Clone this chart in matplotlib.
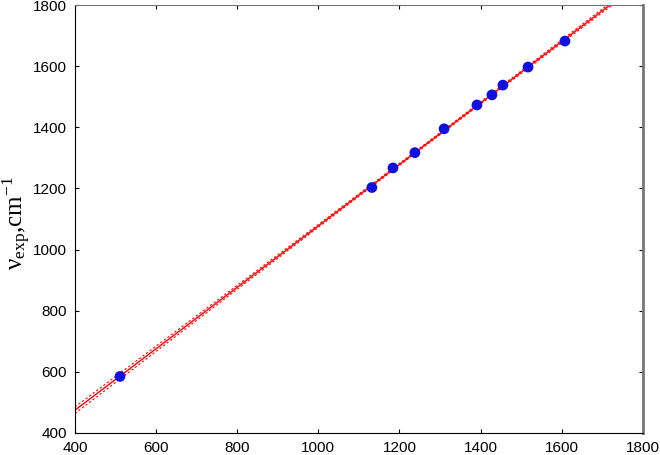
import numpy as np
import matplotlib
matplotlib.use("Agg")
import matplotlib.pyplot as plt

# calculated vs experimental frequencies, cm-1
nu_calc = [511, 1132, 1184, 1238, 1310, 1391, 1428, 1455, 1517, 1608]
nu_exp = [585, 1203, 1267, 1317, 1395, 1473, 1506, 1538, 1597, 1682]

x = np.array(nu_calc, dtype=float)
y = np.array(nu_exp, dtype=float)

# linear fit with 95% confidence band
b, a = np.polyfit(x, y, 1)
n = len(x)
res = y - (a + b * x)
s = np.sqrt(np.sum(res**2) / (n - 2))
xx = np.linspace(400, 1800, 200)
yy = a + b * xx
se = s * np.sqrt(1.0 / n + (xx - x.mean())**2 / np.sum((x - x.mean())**2))
t = 2.306
lo = yy - t * se
hi = yy + t * se

plt.rcParams['font.family'] = ['Liberation Sans', 'DejaVu Sans']
plt.rcParams['mathtext.fontset'] = 'custom'
plt.rcParams['mathtext.rm'] = 'Liberation Serif'
plt.rcParams['mathtext.it'] = 'Liberation Serif:italic'

fig = plt.figure(figsize=(6.6, 4.55), dpi=100)
ax = fig.add_axes([0.1136, 0.0484, 0.8604, 0.9406])

ax.plot(xx, yy, color='red', lw=1.0)
ax.plot(xx, lo, color='red', lw=0.8, ls=(0, (2, 2)))
ax.plot(xx, hi, color='red', lw=0.8, ls=(0, (2, 2)))
ax.scatter(x, y, s=60, color='#1010e0', zorder=3, edgecolors='none')

ax.set_xlim(400, 1800)
ax.set_ylim(400, 1800)
ax.set_xticks(range(400, 1801, 200))
ax.set_yticks(range(400, 1801, 200))
ax.tick_params(direction='in', length=3, labelsize=11, top=True, right=True, pad=6)

ax.spines['left'].set_color('black')
ax.spines['bottom'].set_color('black')
ax.spines['top'].set_color('#777777')
ax.spines['right'].set_color('#777777')
ax.spines['right'].set_linewidth(2.0)

ax.set_ylabel(r'$\mathrm{\nu}_{\mathrm{exp}}$' + ',cm' + r'$^{\mathrm{-1}}$',
              fontsize=18, family='Liberation Serif')
ax.yaxis.set_label_coords(-0.074, 0.49)

fig.savefig('out.png', dpi=100)
